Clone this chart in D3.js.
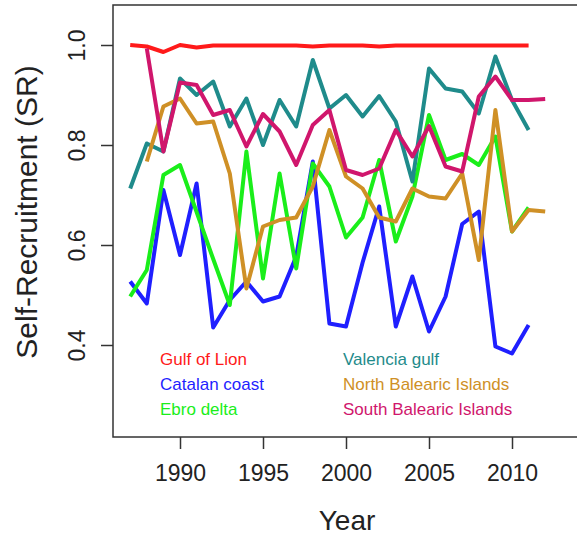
<!DOCTYPE html>
<html>
<head>
<meta charset="utf-8">
<script src="https://cdn.jsdelivr.net/npm/d3@7"></script>
<style>
  body { margin: 0; background: #fff; }
  svg { display: block; font-family: "Liberation Sans", Arial, sans-serif; }
</style>
</head>
<body>
<div id="chart"></div>
<script>
const W = 577;
const H = 535;

// data (null = no value for that year)
const years = [1987, 1988, 1989, 1990, 1991, 1992, 1993, 1994, 1995, 1996, 1997, 1998, 1999,
  2000, 2001, 2002, 2003, 2004, 2005, 2006, 2007, 2008, 2009, 2010, 2011, 2012];

const gulfOfLion = [1.0, 0.997, 0.986, 1.0, 0.995, 0.999, 0.999, 0.999, 0.999, 0.999, 0.999, 0.997, 0.999,
  0.999, 0.999, 0.997, 0.999, 0.999, 0.999, 0.999, 0.999, 0.999, 0.999, 0.999, 0.999, null];
const catalanCoast = [0.527, 0.483, 0.71, 0.58, 0.723, 0.435, 0.49, 0.527, 0.487, 0.497, 0.577, 0.767, 0.443,
  0.437, 0.565, 0.677, 0.437, 0.537, 0.427, 0.497, 0.642, 0.667, 0.397, 0.383, 0.44, null];
const ebroDelta = [0.497, 0.55, 0.74, 0.76, 0.666, 0.572, 0.48, 0.787, 0.533, 0.743, 0.553, 0.763, 0.717,
  0.615, 0.655, 0.77, 0.607, 0.697, 0.86, 0.77, 0.782, 0.76, 0.817, 0.627, 0.675, null];
const valenciaGulf = [0.713, 0.803, 0.787, 0.933, 0.9, 0.927, 0.837, 0.893, 0.8, 0.89, 0.837, 0.97, 0.873,
  0.9, 0.857, 0.898, 0.847, 0.727, 0.953, 0.913, 0.907, 0.863, 0.977, 0.89, 0.83, null];
const northBalearic = [null, 0.767, 0.877, 0.893, 0.843, 0.847, 0.743, 0.513, 0.637, 0.65, 0.655, 0.717, 0.83,
  0.737, 0.713, 0.655, 0.647, 0.713, 0.697, 0.693, 0.743, 0.57, 0.87, 0.627, 0.67, 0.667];
const southBalearic = [null, 0.993, 0.787, 0.925, 0.92, 0.86, 0.87, 0.797, 0.862, 0.827, 0.76, 0.84, 0.87,
  0.75, 0.74, 0.753, 0.83, 0.777, 0.838, 0.757, 0.747, 0.897, 0.937, 0.89, 0.89, 0.892];

const seriesNames = ["Gulf of Lion", "Catalan coast", "Ebro delta",
  "Valencia gulf", "North Balearic Islands", "South Balearic Islands"];
const seriesValues = [gulfOfLion, catalanCoast, ebroDelta, valenciaGulf, northBalearic, southBalearic];
const seriesColors = ["#ff1a1a", "#1f1fff", "#1aee1a", "#1f8b8b", "#cf9026", "#d0166c"];

const xTicks = [1990, 1995, 2000, 2005, 2010];
const yTicks = [0.4, 0.6, 0.8, 1.0];

// plot box (right edge runs off the picture)
const box = { left: 113, top: 5, right: 579, bottom: 437 };

const x = d3.scaleLinear().domain([1986, 2014]).range([113.6, 578.4]);
const y = d3.scaleLinear().domain([0.216, 1.08]).range([box.bottom, box.top]);

const svg = d3
  .select("#chart")
  .append("svg")
  .attr("width", W)
  .attr("height", H);

svg.append("rect").attr("width", W).attr("height", H).attr("fill", "#fff");

// lines
const line = d3
  .line()
  .defined((d) => d[1] != null)
  .x((d) => x(d[0]))
  .y((d) => y(d[1]));

svg
  .selectAll(".series")
  .data(seriesValues)
  .enter()
  .append("path")
  .attr("class", "series")
  .attr("d", (vals) => line(years.map((yr, i) => [yr, vals[i]])))
  .attr("fill", "none")
  .attr("stroke", (d, i) => seriesColors[i])
  .attr("stroke-width", 4)
  .attr("stroke-linejoin", "round");

// box
svg
  .append("rect")
  .attr("x", box.left)
  .attr("y", box.top)
  .attr("width", box.right - box.left)
  .attr("height", box.bottom - box.top)
  .attr("fill", "none")
  .attr("stroke", "#333")
  .attr("stroke-width", 1.5);

// x axis
const xAxis = svg
  .append("g")
  .attr("transform", `translate(0,${box.bottom})`)
  .call(d3.axisBottom(x).tickValues(xTicks).tickFormat(d3.format("d")).tickSize(12).tickPadding(16).tickSizeOuter(0));
xAxis.select(".domain").remove();
xAxis.selectAll("line").attr("stroke", "#333").attr("stroke-width", 1.5);
xAxis.selectAll("text").attr("font-size", 23).attr("fill", "#222").attr("font-family", "Liberation Sans, Arial, sans-serif");

// y axis, labels turned like R's default
const yAxis = svg
  .append("g")
  .attr("transform", `translate(${box.left},0)`)
  .call(d3.axisLeft(y).tickValues(yTicks).tickFormat(d3.format(".1f")).tickSize(12).tickSizeOuter(0));
yAxis.select(".domain").remove();
yAxis.selectAll("line").attr("stroke", "#333").attr("stroke-width", 1.5);
yAxis
  .selectAll("text")
  .attr("x", null)
  .attr("dy", null)
  .attr("transform", `translate(${85 - box.left},0) rotate(-90)`)
  .attr("text-anchor", "middle")
  .attr("font-size", 23)
  .attr("fill", "#222")
  .attr("font-family", "Liberation Sans, Arial, sans-serif");

// axis titles
svg
  .append("text")
  .attr("x", 347)
  .attr("y", 530)
  .attr("text-anchor", "middle")
  .attr("font-size", 28)
  .attr("fill", "#222")
  .text("Year");

svg
  .append("text")
  .attr("transform", "translate(37,212) rotate(-90)")
  .attr("text-anchor", "middle")
  .attr("font-size", 30)
  .attr("fill", "#222")
  .text("Self-Recruitment (SR)");

// legend, two columns of coloured text
const legendX = [160, 343];
const legendY = [365, 390, 415];

svg
  .selectAll(".legend")
  .data(seriesNames)
  .enter()
  .append("text")
  .attr("class", "legend")
  .attr("x", (d, i) => legendX[Math.floor(i / 3)])
  .attr("y", (d, i) => legendY[i % 3])
  .attr("font-size", 17)
  .attr("fill", (d, i) => seriesColors[i])
  .text((d) => d);
</script>
</body>
</html>
